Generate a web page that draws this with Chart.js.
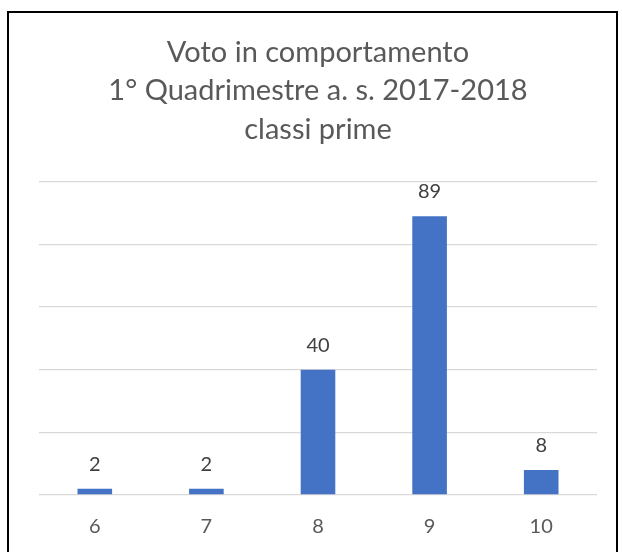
<!DOCTYPE html>
<html>
<head>
<meta charset="utf-8">
<script src="https://cdn.jsdelivr.net/npm/chart.js@4"></script>
<style>
  html, body { margin: 0; padding: 0; background: #fff; overflow: hidden; }
  #wrap { position: relative; width: 622px; height: 552px; }
  #frame { position: absolute; left: 7px; top: 11px; width: 611px; height: 600px; border: 2px solid #000; box-sizing: border-box; pointer-events: none; }
  canvas { position: absolute; left: 0; top: 0; }
</style>
</head>
<body>
<div id="wrap">
  <canvas id="chart" width="622" height="552"></canvas>
  <div id="frame"></div>
</div>
<script>
  const titleLines = ["Voto in comportamento", "1° Quadrimestre a. s. 2017-2018", "classi prime"];
  const categories = ["6", "7", "8", "9", "10"];
  const counts = [2, 2, 40, 89, 8];
  const yTicks = [0, 20, 40, 60, 80, 100];

  const font = "Lato, 'Open Sans', sans-serif";

  // etichette dei valori sopra le barre
  const valueLabels = {
    id: "valueLabels",
    afterDatasetsDraw(chart) {
      const ctx = chart.ctx;
      const meta = chart.getDatasetMeta(0);
      ctx.save();
      ctx.font = `20px ${font}`;
      ctx.fillStyle = "#404040";
      ctx.textAlign = "center";
      ctx.textBaseline = "alphabetic";
      meta.data.forEach((bar, i) => {
        ctx.fillText(String(counts[i]), bar.x, bar.y - 18);
      });
      ctx.restore();
    },
  };

  new Chart(document.getElementById("chart").getContext("2d"), {
    type: "bar",
    data: {
      labels: categories,
      datasets: [{
        data: counts,
        backgroundColor: "#4472c4",
        borderWidth: 0,
        barPercentage: 0.31,
        categoryPercentage: 1,
      }],
    },
    options: {
      responsive: false,
      animation: false,
      layout: { padding: { top: 0, left: 39, right: 25, bottom: 13 } },
      plugins: {
        legend: { display: false },
        tooltip: { enabled: false },
        title: {
          display: true,
          text: titleLines,
          color: "#595959",
          font: { family: font, size: 29, weight: "normal", lineHeight: 1.33 },
          padding: { top: 33, bottom: 33 },
        },
      },
      scales: {
        x: {
          grid: { display: false, drawTicks: false },
          border: { display: false },
          ticks: { color: "#595959", font: { family: font, size: 20 }, padding: 20, maxRotation: 0 },
          afterFit: (axis) => { axis.height = 44; },
        },
        y: {
          min: 0,
          max: 100,
          afterBuildTicks: (axis) => { axis.ticks = yTicks.map((v) => ({ value: v })); },
          grid: { color: "#d9d9d9", lineWidth: 1.3, drawTicks: false },
          border: { display: false },
          ticks: { display: false },
        },
      },
    },
    plugins: [valueLabels],
  });
</script>
</body>
</html>
